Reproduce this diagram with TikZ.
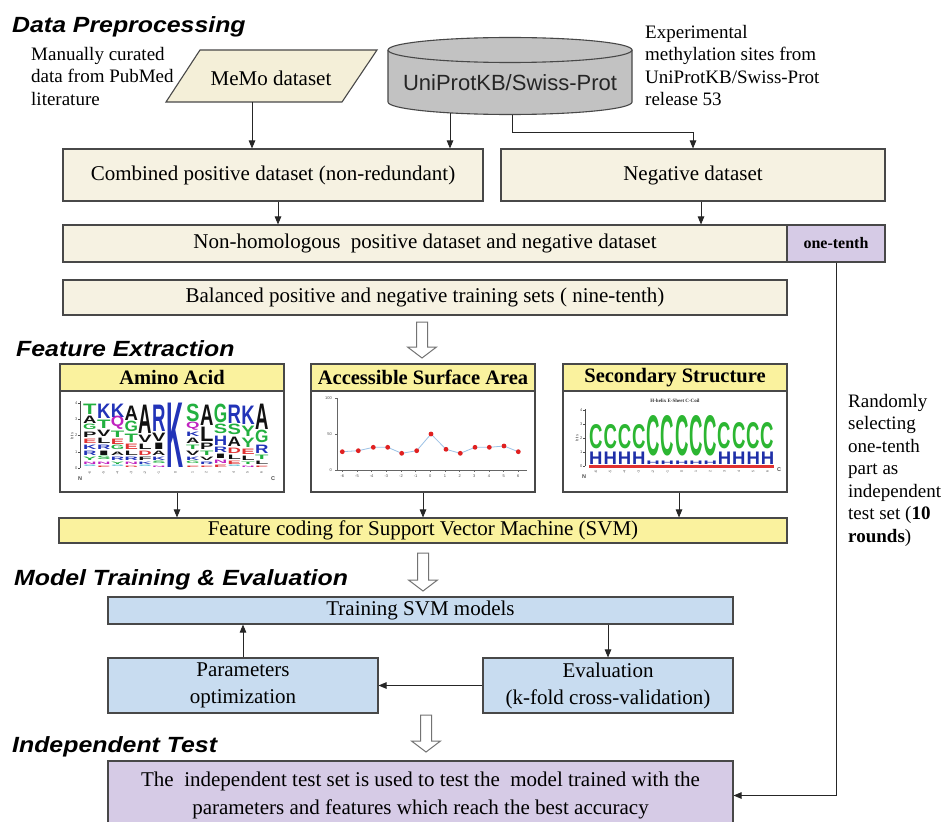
\documentclass[tikz,border=0pt]{standalone}
\usepackage{fontspec}
\usepackage{graphicx}
\setmainfont{Liberation Serif}
\newfontfamily\arialf{Liberation Sans}
\usetikzlibrary{arrows.meta,calc}
\definecolor{cream}{HTML}{F6F2E2}
\definecolor{creamd}{HTML}{F4EFD8}
\definecolor{cylgray}{HTML}{C2C2C2}
\definecolor{ylw}{HTML}{FAF29E}
\definecolor{lblue}{HTML}{C8DCF0}
\definecolor{lpurp}{HTML}{D6CBE6}
\definecolor{bord}{HTML}{484848}
\definecolor{lgG}{HTML}{22B040}
\definecolor{lgB}{HTML}{2233B8}
\definecolor{lgR}{HTML}{E03232}
\definecolor{lgM}{HTML}{C022C0}
\definecolor{lgC}{HTML}{30B0C8}
\definecolor{lgK}{HTML}{111111}
\definecolor{ssG}{HTML}{2CB632}
\definecolor{ssB}{HTML}{1F2FA8}
\definecolor{ptR}{HTML}{E02020}
\definecolor{lnB}{HTML}{9CC2E6}
\newcommand\stackcol[3]{%
  \gdef\ycur{468}%
  \foreach \hh/\cc/\ll in {#3}{%
    \pgfmathsetmacro\hb{\hh-1.6}\pgfmathsetmacro\yb{\ycur-0.8}%
    \node[anchor=south west,inner sep=0pt,text=\cc] at (#1,\yb) {\resizebox{#2pt}{\hb pt}{\arialf\bfseries\ll}};
    \pgfmathsetmacro\tmpy{\ycur-\hh}\xdef\ycur{\tmpy}%
  }}
\newcommand\hollowarr[3]{\draw[hol] (#1-5.5,#2) -- (#1+5.5,#2) -- (#1+5.5,#3-11) -- (#1+14.5,#3-11) -- (#1,#3) -- (#1-14.5,#3-11) -- (#1-5.5,#3-11) -- cycle;}
\begin{document}
\begin{tikzpicture}[x=1pt,y=-1pt,
  bx/.style={draw=bord, line width=1.1pt, inner sep=0pt, align=center, font=\fontsize{21}{27}\selectfont},
  cb/.style={bx, fill=cream},
  yb/.style={bx, fill=ylw},
  bb/.style={bx, fill=lblue},
  pb/.style={bx, fill=lpurp},
  arr/.style={draw=black!85, line width=0.9pt, -{Triangle[length=8pt,width=6.5pt]}},
  ttl/.style={anchor=base west, inner sep=0pt, font=\arialf\bfseries\itshape\fontsize{22}{26}\selectfont},
  note/.style={anchor=north west, inner sep=0pt, align=left, font=\fontsize{19}{22.5}\selectfont},
  hol/.style={draw=black!55, line width=1pt, fill=white},
  pnl/.style={draw=bord, line width=1.1pt, fill=white, inner sep=0pt},
  hdr/.style={bx, fill=ylw, font=\bfseries\fontsize{20.5}{24}\selectfont},
  tiny/.style={inner sep=0pt, font=\arialf\fontsize{4}{4}\selectfont, text=black!70}]
\useasboundingbox (0,0) rectangle (941,821);
\clip (0,0) rectangle (941,821);
\fill[white] (0,0) rectangle (941,821);

% ---------- titles ----------
\node[ttl] (t1) at (12,33) {\scalebox{1.13}[1]{Data Preprocessing}};
\node[ttl] (t2) at (16,356) {\scalebox{1.13}[1]{Feature Extraction}};
\node[ttl] (t3) at (14,585) {\scalebox{1.13}[1]{Model Training \& Evaluation}};
\node[ttl] (t4) at (12,752) {\scalebox{1.13}[1]{Independent Test}};

% ---------- notes ----------
\node[note] (n1) at (31,47) {Manually curated\\data from PubMed\\literature};
\node[note] (n2) at (645,25) {Experimental\\methylation sites from\\UniProtKB/Swiss-Prot\\release 53};
\node[note] (n3) at (848,394) {Randomly\\selecting\\one-tenth\\part as\\independent\\test set (\textbf{10}\\\textbf{rounds})};

% ---------- MeMo parallelogram ----------
\draw[draw=bord, line width=1.1pt, fill=creamd] (200,50) -- (377,50) -- (342,102) -- (166,102) -- cycle;
\node[inner sep=0pt, minimum width=176, minimum height=48, font=\fontsize{21}{25}\selectfont] (memo) at (271,78) {MeMo dataset};

% ---------- cylinder ----------
\fill[cylgray] (388,50) -- (388,102) arc[start angle=180, end angle=0, x radius=122, y radius=12.5] -- (632,50) -- cycle;
\draw[bord, line width=1.1pt] (388,50) -- (388,102) arc[start angle=180, end angle=0, x radius=122, y radius=12.5] -- (632,50);
\draw[bord, line width=1.1pt, fill=cylgray] (510,50) ellipse[x radius=122, y radius=12.5];
\node[inner sep=0pt, minimum width=244, minimum height=80] (cyl) at (510,75) {};
\node[inner sep=0pt, font=\arialf\fontsize{22}{26}\selectfont, text=black!85] (cyltxt) at (510,83) {UniProtKB/Swiss-Prot};

% ---------- dataset boxes ----------
\node[cb, minimum width=420, minimum height=52] (comb) at (273,175) {Combined positive dataset (non-redundant)};
\node[cb, minimum width=384, minimum height=52] (neg) at (693,175) {Negative dataset};
\node[cb, minimum width=724, minimum height=37] (nonhom) at (425,243.5) {Non-homologous\ \ positive dataset and negative dataset};
\node[pb, minimum width=98, minimum height=37, font=\bfseries\fontsize{16}{19}\selectfont] (onetenth) at (836,243.5) {one-tenth};
\node[cb, minimum width=724, minimum height=35] (bal) at (425,297.5) {Balanced positive and negative training sets ( nine-tenth)};

\coordinate (x252) at (252,0);
\coordinate (x450) at (450,0);
\coordinate (x512) at (512,0);
\coordinate (x278) at (278,0);
\coordinate (x701) at (701,0);
\draw[arr] (memo.south -| x252) -- (x252 |- comb.north);
\draw[arr] ($(cyl.south -| x450)+(0,-2)$) -- (x450 |- comb.north);
\draw[arr] (cyl.south -| x512) -- ++(0,17) -| (neg.north);
\draw[arr] (comb.south -| x278) -- (x278 |- nonhom.north);
\draw[arr] (neg.south -| x701) -- (x701 |- nonhom.north);

% ---------- hollow arrows ----------
\hollowarr{422}{322}{358}
\hollowarr{423}{553}{591}
\hollowarr{426}{715}{752}

% ---------- feature panels ----------
\node[pnl, minimum width=224, minimum height=128] (aa) at (172,428) {};
\node[hdr, minimum width=224, minimum height=27] (aah) at (172,377.5) {Amino Acid};
\node[pnl, minimum width=224, minimum height=128] (asa) at (423,428) {};
\node[hdr, minimum width=224, minimum height=27] (asah) at (423,377.5) {Accessible Surface Area};
\node[pnl, minimum width=224, minimum height=128] (ss) at (675,428) {};
\node[hdr, minimum width=224, minimum height=27] (ssh) at (675,377.5) {Secondary Structure};

% Amino acid logo
\draw[black!70, line width=0.5pt] (80,401) -- (80,468);
\foreach \v/\yy in {0/468,1/452,2/435,3/419,4/403}{
  \draw[black!70, line width=0.5pt] (78,\yy) -- (80,\yy);
  \node[tiny, anchor=east] at (77.5,\yy) {\v};}
\node[tiny, rotate=90] at (72,436) {bits};
\stackcol{83}{13.4}{3/lgC/S,4/lgM/N,5/lgG/Y,6/lgB/R,6/lgB/K,6/lgR/E,7/lgK/P,7/lgG/G,9/lgK/A,12/lgG/T}
\stackcol{96.8}{13.4}{3/lgR/E,4/lgM/N,5/lgG/S,6/lgK/I,6/lgB/R,7/lgK/L,8/lgK/V,10/lgG/T,16/lgB/K}
\stackcol{110.6}{13.4}{3/lgC/S,4/lgG/Y,5/lgB/R,5/lgK/A,6/lgG/G,7/lgR/E,8/lgG/T,12/lgM/Q,15/lgB/K}
\stackcol{124.4}{13.4}{3/lgR/D,4/lgM/N,5/lgB/R,6/lgK/L,7/lgR/E,10/lgG/T,12/lgG/G,16/lgK/A}
\stackcol{138.2}{13.4}{3/lgC/S,4/lgB/K,5/lgK/F,6/lgR/D,7/lgK/L,9/lgK/V,30/lgK/A}
\stackcol{152}{13.4}{3/lgM/N,4/lgG/S,5/lgB/K,6/lgK/A,8/lgK/I,10/lgK/V,28/lgB/R}
\stackcol{166.5}{17}{66/lgB/K}
\stackcol{186}{13.4}{3/lgR/E,4/lgG/G,5/lgB/K,6/lgK/V,6/lgG/T,7/lgK/A,6/lgB/K,8/lgM/Q,19/lgG/S}
\stackcol{199.8}{13.4}{3/lgR/E,4/lgB/R,5/lgK/V,6/lgG/T,8/lgK/P,16/lgK/L,22/lgK/A}
\stackcol{213.6}{13.4}{4/lgR/E,5/lgM/N,6/lgK/I,7/lgB/R,11/lgB/H,11/lgG/S,20/lgG/G}
\stackcol{227.4}{13.4}{3/lgC/S,5/lgR/E,6/lgK/L,7/lgR/D,11/lgK/A,12/lgG/S,20/lgB/R}
\stackcol{241.2}{13.4}{3/lgM/N,4/lgG/T,6/lgK/L,7/lgR/E,11/lgG/Y,12/lgG/Y,20/lgB/K}
\stackcol{255}{13.4}{3/lgR/E,5/lgK/L,6/lgG/T,10/lgB/R,14/lgG/G,27/lgK/A}
\foreach \i [count=\k from 0] in {-6,-5,-4,-3,-2,-1,0,1,2,3,4,5,6}{
  \pgfmathsetmacro\tx{89.7+13.8*\k+3*(\k>5)+3*(\k>6)}
  \node[tiny, rotate=90, anchor=east, font=\arialf\fontsize{3.5}{3.5}\selectfont] at (\tx,471) {\i};}
\node[tiny, font=\arialf\bfseries\fontsize{5.5}{6}\selectfont] at (80,479) {N};
\node[tiny, font=\arialf\bfseries\fontsize{5.5}{6}\selectfont] at (273,479) {C};

% ASA chart
\draw[black!60, line width=0.5pt] (337,398) -- (337,470) -- (527,470);
\foreach \v/\yy in {100/398,50/434,0/470}{
  \draw[black!60, line width=0.5pt] (335,\yy) -- (337,\yy);
  \node[tiny, anchor=east] at (332,\yy) {\v};}
\draw[lnB, line width=0.8pt] (342.3,451.7) -- (358.3,450.7) -- (373.3,447.3) -- (387.7,447.3) -- (401.7,453.3) -- (416.7,450.7) -- (431,434) -- (446,449.3) -- (460.3,453.3) -- (475,447.3) -- (489.3,447.3) -- (504,446) -- (518.3,451.7);
\foreach \px/\py in {342.3/451.7,358.3/450.7,373.3/447.3,387.7/447.3,401.7/453.3,416.7/450.7,431/434,446/449.3,460.3/453.3,475/447.3,489.3/447.3,504/446,518.3/451.7}{
  \fill[ptR] (\px,\py) circle[radius=2.4];}
\foreach \i [count=\k from 0] in {-6,-5,-4,-3,-2,-1,0,1,2,3,4,5,6}{
  \pgfmathsetmacro\tx{342.3+14.665*\k}
  \draw[black!60, line width=0.4pt] (\tx,470) -- (\tx,472);
  \node[tiny] at (\tx,476) {\i};}

% Secondary structure logo
\node[tiny, font=\bfseries\fontsize{5}{6}\selectfont, text=black!80] at (675,401) {H-helix E-Sheet C-Coil};
\draw[black!70, line width=0.5pt] (585,409) -- (585,466);
\foreach \v/\yy in {0/466,1/452,2/438,3/424,4/410}{
  \draw[black!70, line width=0.5pt] (583,\yy) -- (585,\yy);
  \node[tiny, anchor=east] at (582.5,\yy) {\v};}
\node[tiny, rotate=90] at (577,438) {bits};
\foreach \i/\cb/\ch/\hh in {0/451/26/14,1/451/26/14,2/451/26/14,3/451/26/14,4/458/42/5,5/458/42/5,6/458/42/5,7/458/42/5,8/458/42/5,9/451/28/14,10/451/28/14,11/451/28/14,12/451/28/14}{
  \pgfmathsetmacro\tx{589+14.3*\i}
  \pgfmathsetmacro\hb{\hh-1.5}
  \pgfmathsetmacro\cbb{\cb-1.5}
  \pgfmathsetmacro\chh{\ch-2}
  \node[anchor=south west, inner sep=0pt, text=ssB] at (\tx,464.5) {\resizebox{13.4pt}{\hb pt}{\arialf\bfseries H}};
  \node[anchor=south west, inner sep=0pt, text=ssG] at (\tx,\cbb) {\resizebox{13.4pt}{\chh pt}{\arialf\bfseries C}};}
\fill[lgR] (589,465) rectangle (774,467.5);
\foreach \i [count=\k from 0] in {-6,-5,-4,-3,-2,-1,0,1,2,3,4,5,6}{
  \pgfmathsetmacro\tx{595.8+14.3*\k}
  \node[tiny, rotate=90, anchor=east, font=\arialf\fontsize{3.5}{3.5}\selectfont] at (\tx,470) {\i};}
\node[tiny, font=\arialf\bfseries\fontsize{5.5}{6}\selectfont] at (584,477) {N};
\node[tiny, font=\arialf\bfseries\fontsize{5.5}{6}\selectfont] at (779,470) {C};

% feature coding
\node[yb, minimum width=728, minimum height=25] (feat) at (423,530.5) {Feature coding for Support Vector Machine (SVM)};
\coordinate (x177) at (177,0);
\coordinate (x423) at (423,0);
\coordinate (x679) at (679,0);
\draw[arr] (aa.south -| x177) -- (x177 |- feat.north);
\draw[arr] (asa.south -| x423) -- (x423 |- feat.north);
\draw[arr] (ss.south -| x679) -- (x679 |- feat.north);

% ---------- model training ----------
\node[bb, minimum width=625, minimum height=27] (train) at (420.5,610.5) {Training SVM models};
\node[bb, minimum width=270, minimum height=55] (param) at (243,685.5) {Parameters\\optimization};
\node[bb, minimum width=250, minimum height=55] (eval) at (608,685.5) {Evaluation\\(k-fold cross-validation)};
\draw[arr] (train.south -| eval.north) -- (eval.north);
\draw[arr] (eval.west) -- (param.east);
\draw[arr] (param.north) -- (param.north |- train.south);

% ---------- independent test ----------
\node[pb, minimum width=625, minimum height=69, font=\fontsize{21}{28}\selectfont] (test) at (420.5,795.5) {The\ \ independent test set is used to test the\ \ model trained with the\\parameters and features which reach the best accuracy};
\draw[arr] (onetenth.south) |- (test.east);
\end{tikzpicture}
\end{document}
